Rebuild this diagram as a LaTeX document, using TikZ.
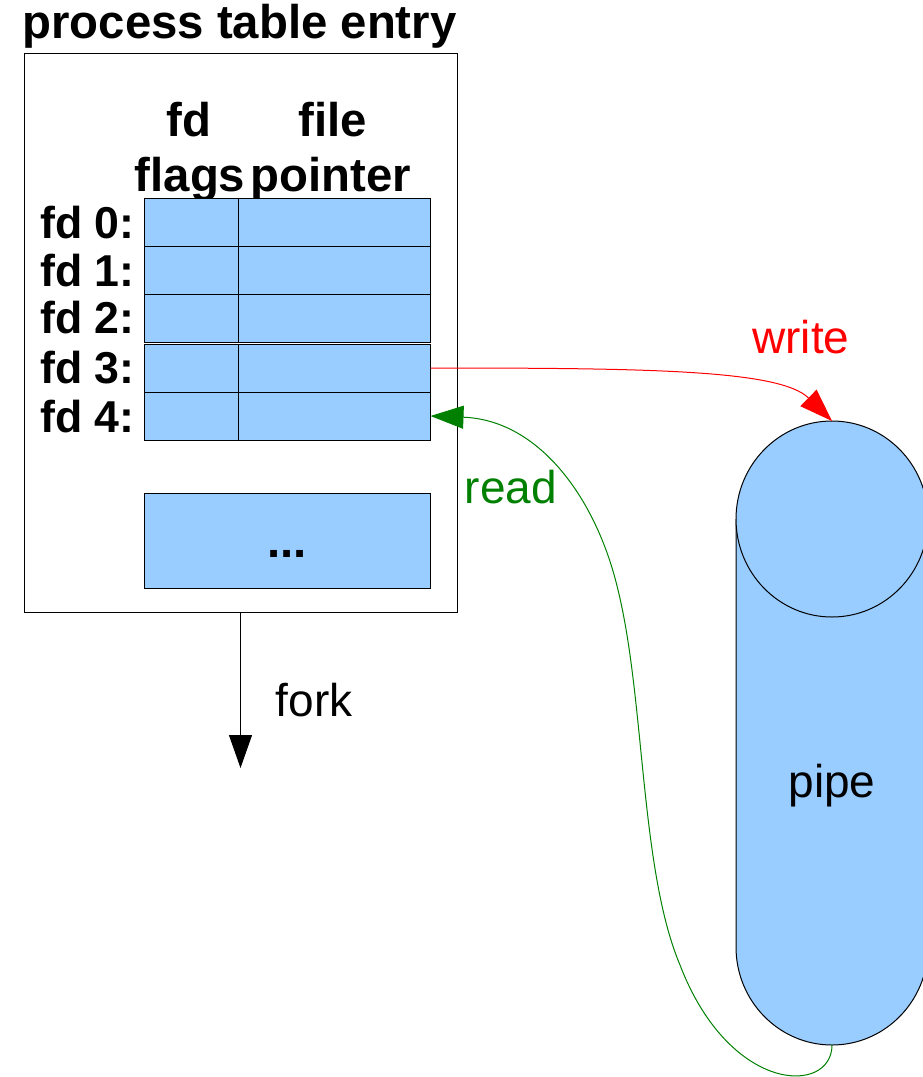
\documentclass[tikz,border=0pt]{standalone}
\usepackage{fontspec}
\setmainfont{Liberation Sans}
\usetikzlibrary{arrows.meta}
\definecolor{cellblue}{HTML}{99CCFF}
\definecolor{wrred}{HTML}{FF0000}
\definecolor{rdgreen}{HTML}{008000}
\begin{document}
\begin{tikzpicture}[x=0.75pt,y=-0.75pt,
  boldtxt/.style={font=\fontsize{35.5}{42}\selectfont\bfseries, inner sep=0pt},
  rowtxt/.style={font=\fontsize{33.5}{40}\selectfont\bfseries, inner sep=0pt},
  regtxt/.style={font=\fontsize{34.5}{41}\selectfont, inner sep=0pt},
  cell/.style={draw=black, line width=0.75pt, fill=cellblue, anchor=north west,
               minimum height=36pt, inner sep=0pt, outer sep=0pt},
  flagcell/.style={cell, minimum width=70.875pt},
  ptrcell/.style={cell, minimum width=144pt},
  tip/.style={-{Triangle[length=24.75pt,width=17.25pt]}},
  wire/.style={line width=0.75pt}
]
\useasboundingbox (0,0) rectangle (923,1077);
\clip (0,0) rectangle (923,1077);

% process table entry frame
\node[boldtxt, anchor=base] (title) at (239.5,39) {process table entry};
\node[draw, line width=0.75pt, anchor=north west, minimum width=324.75pt,
      minimum height=418.5pt, inner sep=0pt, outer sep=0pt] (entry) at (24,54) {};

% column headings
\node[boldtxt, anchor=base] (hfd)    at (189,137) {fd};
\node[boldtxt, anchor=base] (hflags) at (190,191) {flags};
\node[boldtxt, anchor=base] (hfile)  at (333,137) {file};
\node[boldtxt, anchor=base] (hptr)   at (331,191) {pointer};

% descriptor rows
\foreach \r/\y/\b in {0/198/238, 1/246/286, 2/294/333, 3/344/383, 4/392/432} {
  \node[flagcell] (fl\r) at (144,\y) {};
  \node[ptrcell]  (pt\r) at (238.5,\y) {};
  \node[rowtxt, anchor=base east] (lab\r) at (135,\b) {fd \r:};
}

% remaining entries
\node[cell, minimum width=214.875pt, minimum height=71.25pt] (more) at (144,493) {};
\node[boldtxt, anchor=base] (dots) at (287,557) {...};

% fork
\coordinate (forkend) at (240.5,768);
\draw[wire, tip] (entry.south) -- (forkend);
\node[regtxt, anchor=base] (forklbl) at (314,716) {fork};

% pipe cylinder
\fill[cellblue] (736,519) -- (736,947)
  arc[start angle=180, end angle=0, x radius=96, y radius=98] -- (928,519) -- cycle;
\draw[wire] (736,519) -- (736,947)
  arc[start angle=180, end angle=0, x radius=96, y radius=98] -- (928,519);
\draw[wire, fill=cellblue] (832,519) ellipse [x radius=96, y radius=98];
\coordinate (pipetop) at (832,421);
\coordinate (pipebot) at (832,1045);
\node[regtxt, anchor=base] (pipelbl) at (832,797) {pipe};

% write end: fd 3 -> pipe
\draw[wire, tip, wrred] (pt3.east) .. controls (650,368) and (780,370) .. (pipetop);
\node[regtxt, anchor=base, text=wrred] (wlbl) at (801,353) {write};

% read end: pipe -> fd 4
\draw[wire, tip, rdgreen] (pipebot)
  .. controls (832,1095) and (730,1095) .. (680,965)
  .. controls (640,870) and (645,700) .. (618,590)
  .. controls (597,500) and (540,420) .. (pt4.east);
\node[regtxt, anchor=base, text=rdgreen] (rlbl) at (511,503) {read};
\end{tikzpicture}
\end{document}
